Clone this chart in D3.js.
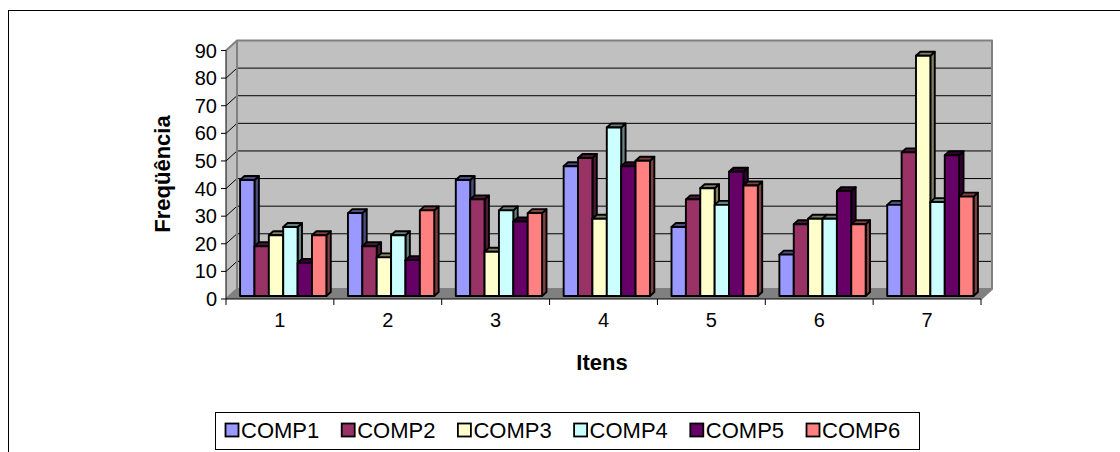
<!DOCTYPE html>
<html>
<head>
<meta charset="utf-8">
<script src="https://cdn.jsdelivr.net/npm/d3@7"></script>
<style>
  html, body { margin: 0; padding: 0; background: #fff; }
  svg { display: block; font-family: "Liberation Sans", Arial, sans-serif; }
</style>
</head>
<body>
<svg id="chart" width="1120" height="452"></svg>
<script>
// Frequência por item, para cada componente
const categories = ["1", "2", "3", "4", "5", "6", "7"];
const seriesNames = ["COMP1", "COMP2", "COMP3", "COMP4", "COMP5", "COMP6"];
const comp1 = [42, 30, 42, 47, 25, 15, 33];
const comp2 = [18, 18, 35, 50, 35, 26, 52];
const comp3 = [22, 14, 16, 28, 39, 28, 87];
const comp4 = [25, 22, 31, 61, 33, 28, 34];
const comp5 = [12, 13, 27, 47, 45, 38, 51];
const comp6 = [22, 31, 30, 49, 40, 26, 36];
const seriesColors = ["#9999FF", "#993366", "#FFFFCC", "#CCFFFF", "#660066", "#FF8080"];
const yTickValues = [0, 10, 20, 30, 40, 50, 60, 70, 80, 90];

const seriesValues = [comp1, comp2, comp3, comp4, comp5, comp6];

const svg = d3.select("#chart");

// Plot frame (front plane) and the oblique depth offset of the 3-D box
const plotLeft = 226, plotRight = 981, plotBase = 299, plotTop = 50.5;
const DX = 11, DY = -10;
const zFront = 0.3, zBack = 0.7;

const y = d3.scaleLinear().domain([0, 90]).range([plotBase, plotTop]);
const xCat = d3.scaleBand().domain(categories).range([plotLeft, plotRight]).padding(0);
const xBar = d3.scaleBand().domain(seriesNames).range([0, xCat.bandwidth()])
  .paddingInner(0).paddingOuter(0.75);

const proj = (x, v, z) => [x + DX * z, y(v) + DY * z];
const poly = pts => pts.map(p => p.join(",")).join(" ");

// Outer chart border
svg.append("rect")
  .attr("x", 8.5).attr("y", 10.5).attr("width", 1200).attr("height", 500)
  .attr("fill", "#fff").attr("stroke", "#000").attr("stroke-width", 1);

const box = svg.append("g");

// Back wall
box.append("polygon")
  .attr("points", poly([proj(plotLeft, 0, 1), proj(plotRight, 0, 1), proj(plotRight, 90, 1), proj(plotLeft, 90, 1)]))
  .attr("fill", "#C0C0C0");
// Side wall
box.append("polygon")
  .attr("points", poly([proj(plotLeft, 0, 0), proj(plotLeft, 0, 1), proj(plotLeft, 90, 1), proj(plotLeft, 90, 0)]))
  .attr("fill", "#C0C0C0");
// Floor
box.append("polygon")
  .attr("points", poly([proj(plotLeft, 0, 0), proj(plotRight, 0, 0), proj(plotRight, 0, 1), proj(plotLeft, 0, 1)]))
  .attr("fill", "#808080");

// Gridlines across side wall and back wall
box.selectAll("polyline.grid")
  .data(yTickValues.filter(v => v > 0))
  .join("polyline")
  .attr("class", "grid")
  .attr("points", v => poly([proj(plotLeft, v, 0), proj(plotLeft, v, 1), proj(plotRight, v, 1)]))
  .attr("fill", "none").attr("stroke", "#000").attr("stroke-width", 1);

// Wall outlines
const outline = pts => box.append("polyline").attr("points", poly(pts))
  .attr("stroke", "#808080").attr("stroke-width", 2).attr("fill", "none")
  .attr("stroke-linejoin", "round");
outline([proj(plotLeft, 0, 1), proj(plotLeft, 90, 1), proj(plotRight, 90, 1), proj(plotRight, 0, 1)]);
outline([proj(plotLeft, 90, 0), proj(plotLeft, 90, 1)]);
outline([proj(plotLeft, 0, 0), proj(plotLeft, 0, 1), proj(plotRight, 0, 1), proj(plotRight, 0, 0)]);

// Value axis
const yAxis = svg.append("g");
yAxis.append("line")
  .attr("x1", plotLeft).attr("x2", plotLeft).attr("y1", y(0)).attr("y2", y(90))
  .attr("stroke", "#000").attr("stroke-width", 1);
yAxis.selectAll("line.tick").data(yTickValues).join("line")
  .attr("class", "tick")
  .attr("x1", plotLeft - 5).attr("x2", plotLeft).attr("y1", d => y(d)).attr("y2", d => y(d))
  .attr("stroke", "#000").attr("stroke-width", 1);
yAxis.selectAll("text").data(yTickValues).join("text")
  .attr("x", plotLeft - 9).attr("y", d => y(d))
  .attr("text-anchor", "end").attr("dominant-baseline", "central")
  .attr("font-size", 20).attr("fill", "#000")
  .text(d => d);

// Category axis
const xAxis = svg.append("g");
xAxis.append("line")
  .attr("x1", plotLeft).attr("x2", plotRight).attr("y1", plotBase).attr("y2", plotBase)
  .attr("stroke", "#000").attr("stroke-width", 1);
const tickPos = categories.map(c => xCat(c)).concat([plotRight]);
xAxis.selectAll("line.tick").data(tickPos).join("line")
  .attr("class", "tick")
  .attr("x1", d => d).attr("x2", d => d).attr("y1", plotBase).attr("y2", plotBase + 6)
  .attr("stroke", "#000").attr("stroke-width", 1);
xAxis.selectAll("text").data(categories).join("text")
  .attr("x", d => xCat(d) + xCat.bandwidth() / 2).attr("y", 327)
  .attr("text-anchor", "middle").attr("font-size", 20).attr("fill", "#000")
  .text(d => d);

// 3-D columns, painted left to right so each bar hides its neighbour's side
const bars = svg.append("g")
  .attr("stroke", "#000").attr("stroke-width", 1.9).attr("stroke-linejoin", "round");
categories.forEach((cat, ci) => {
  seriesNames.forEach((name, si) => {
    const v = seriesValues[si][ci];
    const xl = xCat(cat) + xBar(name);
    const xr = xl + xBar.bandwidth();
    const col = seriesColors[si];
    const c = d3.rgb(col);
    const sideCol = d3.rgb(c.r * 0.5, c.g * 0.5, c.b * 0.5).formatHex();
    const g = bars.append("g");
    g.append("polygon")
      .attr("points", poly([proj(xr, 0, zFront), proj(xr, 0, zBack), proj(xr, v, zBack), proj(xr, v, zFront)]))
      .attr("fill", sideCol);
    g.append("polygon")
      .attr("points", poly([proj(xl, v, zFront), proj(xr, v, zFront), proj(xr, v, zBack), proj(xl, v, zBack)]))
      .attr("fill", sideCol);
    g.append("polygon")
      .attr("points", poly([proj(xl, 0, zFront), proj(xr, 0, zFront), proj(xr, v, zFront), proj(xl, v, zFront)]))
      .attr("fill", col);
  });
});

// Axis titles
svg.append("text")
  .attr("transform", "translate(170,174) rotate(-90)")
  .attr("text-anchor", "middle").attr("font-size", 22).attr("font-weight", "bold")
  .text("Freqüência");
svg.append("text")
  .attr("x", 602).attr("y", 370)
  .attr("text-anchor", "middle").attr("font-size", 22).attr("font-weight", "bold")
  .text("Itens");

// Legend
const legend = svg.append("g");
legend.append("rect")
  .attr("x", 215.5).attr("y", 412.5).attr("width", 704).attr("height", 37)
  .attr("fill", "#fff").attr("stroke", "#000").attr("stroke-width", 1);
const item = legend.selectAll("g.item").data(seriesNames).join("g")
  .attr("class", "item")
  .attr("transform", (d, i) => `translate(${225 + i * 116.2},0)`);
item.append("rect")
  .attr("x", 0.5).attr("y", 423.5).attr("width", 13).attr("height", 13)
  .attr("fill", (d, i) => seriesColors[i]).attr("stroke", "#000").attr("stroke-width", 1.8);
item.append("text")
  .attr("x", 16).attr("y", 430)
  .attr("dominant-baseline", "central").attr("font-size", 22).attr("fill", "#000")
  .text(d => d);
</script>
</body>
</html>
